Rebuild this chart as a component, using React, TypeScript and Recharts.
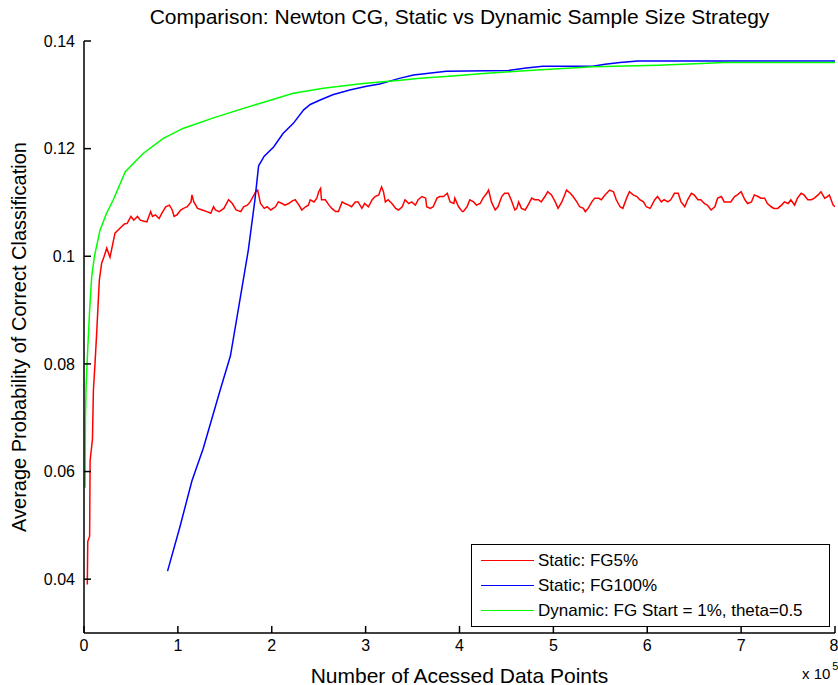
import { Legend, Line, LineChart, XAxis, YAxis } from 'recharts';

// x values are in units of 10^5 accessed data points
const xTicks = [0, 1, 2, 3, 4, 5, 6, 7, 8];
const yTicks = [0.04, 0.06, 0.08, 0.1, 0.12, 0.14];

const staticFg5: [number, number][] = [
  [0.035, 0.039], [0.04, 0.047], [0.06, 0.048], [0.065, 0.062], [0.09, 0.066], [0.1, 0.075],
  [0.117, 0.08], [0.135, 0.0857], [0.163, 0.0955], [0.188, 0.0987], [0.215, 0.1], [0.242, 0.1015],
  [0.277, 0.0998], [0.33, 0.1043], [0.383, 0.1052], [0.43, 0.106],
  [0.46, 0.1061], [0.5, 0.1074], [0.53, 0.1067], [0.57, 0.1074], [0.6, 0.1067], [0.64, 0.1065],
  [0.67, 0.1064], [0.71, 0.1083], [0.73, 0.1074], [0.76, 0.1077], [0.8, 0.107], [0.83, 0.108],
  [0.87, 0.1092], [0.91, 0.1095], [0.94, 0.1086], [0.96, 0.1074], [0.99, 0.1077], [1.03, 0.1086],
  [1.06, 0.1089], [1.1, 0.1092], [1.14, 0.1101], [1.15, 0.1114], [1.17, 0.1101], [1.21, 0.1089],
  [1.26, 0.1086], [1.31, 0.1083], [1.35, 0.108], [1.38, 0.1092], [1.4, 0.1086], [1.44, 0.1083],
  [1.49, 0.1089], [1.54, 0.1105], [1.58, 0.1098], [1.62, 0.1086], [1.67, 0.1083], [1.7, 0.1092],
  [1.74, 0.1095], [1.77, 0.1101], [1.83, 0.112], [1.85, 0.1123], [1.88, 0.1098], [1.92, 0.1089],
  [1.95, 0.1092], [1.99, 0.1086], [2.04, 0.1092], [2.07, 0.1101], [2.11, 0.1098], [2.14, 0.1095],
  [2.18, 0.1098], [2.22, 0.1103], [2.25, 0.1105], [2.29, 0.1095], [2.32, 0.1086], [2.36, 0.1092],
  [2.39, 0.1095], [2.41, 0.1105], [2.45, 0.1101], [2.48, 0.1108], [2.5, 0.112], [2.52, 0.1126],
  [2.53, 0.1105], [2.57, 0.1105], [2.61, 0.1095], [2.64, 0.1089], [2.68, 0.1083], [2.71, 0.1083],
  [2.75, 0.1101], [2.78, 0.1098], [2.82, 0.1095], [2.85, 0.1092], [2.89, 0.1101], [2.92, 0.1101],
  [2.96, 0.1089], [2.99, 0.1098], [3.03, 0.1092], [3.07, 0.1105], [3.1, 0.1111], [3.14, 0.1114],
  [3.17, 0.1129], [3.19, 0.112], [3.21, 0.1101], [3.24, 0.1105], [3.28, 0.1098], [3.32, 0.1089],
  [3.35, 0.1086], [3.39, 0.1092], [3.42, 0.1105], [3.46, 0.1098], [3.49, 0.1101], [3.53, 0.1095],
  [3.56, 0.1105], [3.6, 0.1111], [3.64, 0.1108], [3.65, 0.1092], [3.69, 0.1089], [3.72, 0.1092],
  [3.76, 0.1108], [3.79, 0.1111], [3.83, 0.1111], [3.87, 0.1117], [3.9, 0.1101], [3.94, 0.1098],
  [3.95, 0.1108], [3.99, 0.1092], [4.03, 0.1083], [4.04, 0.1083], [4.08, 0.1092], [4.11, 0.1105],
  [4.15, 0.1101], [4.18, 0.1095], [4.22, 0.1098], [4.25, 0.1108], [4.29, 0.1117], [4.31, 0.1123],
  [4.34, 0.1101], [4.38, 0.1086], [4.41, 0.1092], [4.45, 0.1111], [4.48, 0.1117], [4.52, 0.1117],
  [4.55, 0.1105], [4.59, 0.1086], [4.61, 0.1089], [4.63, 0.1101], [4.66, 0.1089], [4.7, 0.1086],
  [4.73, 0.1095], [4.77, 0.1108], [4.8, 0.1105], [4.84, 0.1105], [4.87, 0.1101], [4.91, 0.1111],
  [4.94, 0.112], [4.98, 0.1114], [5.02, 0.1101], [5.05, 0.1089], [5.09, 0.1101], [5.12, 0.1114],
  [5.14, 0.1123], [5.18, 0.1117], [5.21, 0.1111], [5.25, 0.1101], [5.28, 0.1092], [5.32, 0.1089],
  [5.34, 0.1083], [5.37, 0.1089], [5.41, 0.1101], [5.44, 0.1108], [5.48, 0.1108], [5.51, 0.1105],
  [5.55, 0.1114], [5.6, 0.1123], [5.64, 0.112], [5.67, 0.1105], [5.71, 0.1092], [5.74, 0.1089],
  [5.78, 0.1108], [5.81, 0.112], [5.85, 0.1114], [5.89, 0.1111], [5.92, 0.1105], [5.96, 0.1101],
  [5.99, 0.1092], [6.03, 0.1089], [6.04, 0.1092], [6.08, 0.1105], [6.11, 0.1111], [6.15, 0.1101],
  [6.18, 0.1105], [6.22, 0.1101], [6.25, 0.1105], [6.29, 0.1117], [6.33, 0.1117], [6.36, 0.1101],
  [6.4, 0.1092], [6.43, 0.1105], [6.47, 0.1117], [6.5, 0.1114], [6.54, 0.1105], [6.57, 0.1105],
  [6.61, 0.1098], [6.64, 0.1095], [6.68, 0.1086], [6.72, 0.1092], [6.75, 0.1108], [6.79, 0.1111],
  [6.82, 0.1101], [6.86, 0.1101], [6.89, 0.1101], [6.93, 0.1111], [6.96, 0.1114], [7.0, 0.112],
  [7.04, 0.1105], [7.07, 0.1098], [7.11, 0.1101], [7.14, 0.1114], [7.18, 0.1111], [7.21, 0.1108],
  [7.25, 0.1108], [7.28, 0.1098], [7.32, 0.1092], [7.35, 0.1089], [7.39, 0.1089], [7.43, 0.1095],
  [7.46, 0.1101], [7.5, 0.1098], [7.53, 0.1105], [7.57, 0.1095], [7.6, 0.1108], [7.64, 0.1117],
  [7.67, 0.1114], [7.71, 0.1105], [7.75, 0.1105], [7.78, 0.1108], [7.82, 0.1114], [7.85, 0.112],
  [7.89, 0.1108], [7.92, 0.1111], [7.94, 0.1114], [7.98, 0.1095], [8.0, 0.1092],
];

const staticFg100: [number, number][] = [
  [0.89, 0.0415], [1.02, 0.0496], [1.15, 0.0583], [1.27, 0.0643], [1.45, 0.0751], [1.56, 0.0815],
  [1.66, 0.0918], [1.75, 0.1011], [1.82, 0.1104], [1.86, 0.1168], [1.92, 0.1186], [2.02, 0.1203],
  [2.12, 0.1228], [2.23, 0.1247], [2.34, 0.1272], [2.41, 0.1282], [2.51, 0.129], [2.65, 0.13],
  [2.83, 0.1309], [3.01, 0.1316], [3.15, 0.132], [3.37, 0.1331], [3.51, 0.1337], [3.86, 0.1344],
  [4.52, 0.1345], [4.71, 0.135], [4.89, 0.1353], [5.42, 0.1353], [5.55, 0.1357], [5.71, 0.136],
  [5.9, 0.1363], [8.0, 0.1363],
];

const dynamicFg: [number, number][] = [
  [0.012, 0.057], [0.015, 0.07], [0.022, 0.0757], [0.039, 0.0825], [0.06, 0.09], [0.082, 0.0962],
  [0.11, 0.0999], [0.17, 0.1048], [0.24, 0.108], [0.31, 0.1104], [0.44, 0.1157], [0.63, 0.1191],
  [0.845, 0.1219], [1.06, 0.1238], [1.41, 0.1259], [1.87, 0.1284], [2.23, 0.1303], [2.55, 0.1312],
  [2.97, 0.1321], [3.37, 0.1327], [3.58, 0.1331], [3.93, 0.1335], [4.29, 0.134], [4.54, 0.1343],
  [4.82, 0.1346], [5.1, 0.1349], [5.42, 0.1352], [6.12, 0.1355], [6.83, 0.136], [8.0, 0.136],
];

const series = [
  { name: 'Static: FG5%', color: '#ff0000', points: staticFg5 },
  { name: 'Static; FG100%', color: '#0000ff', points: staticFg100 },
  { name: 'Dynamic: FG Start = 1%, theta=0.5', color: '#00ff00', points: dynamicFg },
];

const toRows = (pts: [number, number][]) => pts.map(([x, y]) => ({ x, y }));

const font = '"Liberation Sans", Arial, sans-serif';

const renderLegend = () => (
  <div
    style={{
      border: '1.5px solid #000',
      background: '#fff',
      padding: '3px 0 4px 9px',
      fontFamily: font,
      fontSize: 17,
      color: '#000',
      boxSizing: 'border-box',
      width: 359,
      height: 83,
    }}
  >
    {series.map((s) => (
      <div key={s.name} style={{ display: 'flex', alignItems: 'center', height: 25 }}>
        <span style={{ display: 'inline-block', width: 53, height: 0, borderTop: `1.5px solid ${s.color}`, marginRight: 4 }} />
        <span>{s.name}</span>
      </div>
    ))}
  </div>
);

const renderYLabel = (props: any) => {
  const vb = props.viewBox;
  const cx = 19;
  const cy = vb.y + vb.height / 2;
  return (
    <text x={cx} y={cy} transform={`rotate(-90 ${cx} ${cy})`} textAnchor="middle" dominantBaseline="central" fontFamily={font} fontSize={20} fill="#000">
      Average Probability of Correct Classification
    </text>
  );
};

const renderXLabel = (props: any) => {
  const vb = props.viewBox;
  return (
    <text x={vb.x + vb.width / 2} y={675} textAnchor="middle" dominantBaseline="central" fontFamily={font} fontSize={21} fill="#000">
      Number of Acessed Data Points
    </text>
  );
};

export default function App() {
  return (
    <div style={{ position: 'absolute', left: 0, top: 0, width: 838, height: 685, background: '#fff' }}>
      <div style={{ position: 'absolute', left: 84, width: 751, top: 5, textAlign: 'center', fontFamily: font, fontSize: 21, color: '#000', whiteSpace: 'nowrap' }}>
        Comparison: Newton CG, Static vs Dynamic Sample Size Strategy
      </div>
      <div style={{ position: 'absolute', left: 802, top: 665, fontFamily: font, fontSize: 15, color: '#000', whiteSpace: 'nowrap' }}>
        x 10<span style={{ position: 'relative', top: -9, fontSize: 11, marginLeft: 2 }}>5</span>
      </div>
      <LineChart width={838} height={685} margin={{ top: 41, right: 3, bottom: 22, left: 24 }}>
        <XAxis
          xAxisId={0}
          type="number"
          dataKey="x"
          domain={[0, 8]}
          ticks={xTicks}
          height={30}
          tickSize={-7}
          tickMargin={14}
          axisLine={{ stroke: '#000', strokeWidth: 1.5 }}
          tickLine={{ stroke: '#000', strokeWidth: 1.5 }}
          tick={{ fill: '#000', fontFamily: font, fontSize: 16 }}
          allowDataOverflow
          label={renderXLabel}
        />
        <XAxis
          xAxisId="top"
          orientation="top"
          type="number"
          dataKey="x"
          domain={[0, 8]}
          ticks={xTicks}
          height={0}
          tickSize={-7}
          tickFormatter={() => ''}
          axisLine={{ stroke: '#000', strokeWidth: 1.5 }}
          tickLine={{ stroke: '#000', strokeWidth: 1.5 }}
          allowDataOverflow
        />
        <YAxis
          yAxisId={0}
          type="number"
          domain={[0.03, 0.14]}
          ticks={yTicks}
          width={60}
          tickSize={-7}
          tickMargin={16}
          axisLine={{ stroke: '#000', strokeWidth: 1.5 }}
          tickLine={{ stroke: '#000', strokeWidth: 1.5 }}
          tick={{ fill: '#000', fontFamily: font, fontSize: 16 }}
          allowDataOverflow
          label={renderYLabel}
        />
        <YAxis
          yAxisId="right"
          orientation="right"
          type="number"
          domain={[0.03, 0.14]}
          ticks={yTicks}
          width={0}
          tickSize={-7}
          tickFormatter={() => ''}
          axisLine={{ stroke: '#000', strokeWidth: 1.5 }}
          tickLine={{ stroke: '#000', strokeWidth: 1.5 }}
          allowDataOverflow
        />
        <Legend
          content={renderLegend}
          layout="horizontal"
          align="center"
          verticalAlign="middle"
          wrapperStyle={{ left: 471, top: 544, width: 359, height: 83 }}
        />
        {series.map((s) => (
          <Line
            key={s.name}
            data={toRows(s.points)}
            dataKey="y"
            name={s.name}
            stroke={s.color}
            strokeWidth={1.5}
            dot={false}
            isAnimationActive={false}
          />
        ))}
      </LineChart>
    </div>
  );
}
